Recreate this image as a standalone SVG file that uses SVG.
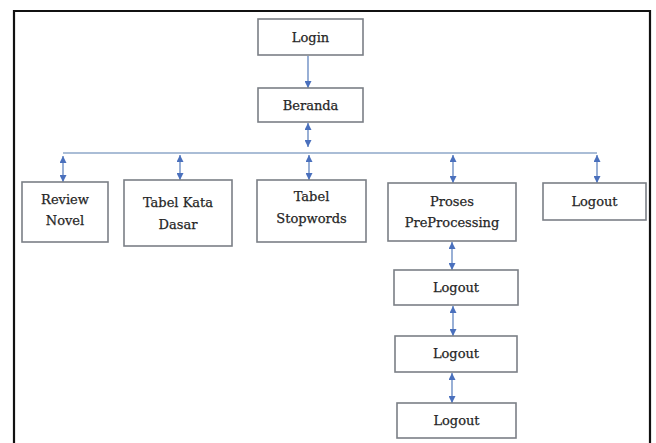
<svg xmlns="http://www.w3.org/2000/svg" width="656" height="443" viewBox="0 0 656 443">
<defs>
<marker id="ah" viewBox="0 0 8 8" refX="8" refY="4" markerWidth="7" markerHeight="7" markerUnits="userSpaceOnUse" orient="auto-start-reverse">
<path d="M0,0 L8,4 L0,8 z" fill="#4a70bd"/>
</marker>
<style>
.box{fill:#ffffff;stroke:#7b7f86;stroke-width:1.6}
.t{font-family:"DejaVu Serif","Liberation Serif",serif;font-size:13px;fill:#262626;stroke:#262626;stroke-width:0.25;text-anchor:middle}
.c{stroke:#6d8ec4;stroke-width:1.4;fill:none}
.bus{stroke:#8ea7c8;stroke-width:1.6;fill:none}
</style>
</defs>
<rect width="656" height="443" fill="#ffffff"/>
<path d="M14,443 V11 H650 V443" fill="none" stroke="#111111" stroke-width="2.2"/>
<g id="connectors">
<line class="c" x1="308" y1="56" x2="308" y2="88" marker-end="url(#ah)"/>
<line class="c" x1="308" y1="123" x2="308" y2="147" marker-start="url(#ah)" marker-end="url(#ah)"/>
<line class="bus" x1="63" y1="153" x2="597" y2="153"/>
<line class="c" x1="63" y1="156" x2="63" y2="182" marker-start="url(#ah)" marker-end="url(#ah)"/>
<line class="c" x1="180" y1="155" x2="180" y2="180" marker-start="url(#ah)" marker-end="url(#ah)"/>
<line class="c" x1="309" y1="155" x2="309" y2="180" marker-start="url(#ah)" marker-end="url(#ah)"/>
<line class="c" x1="453" y1="155" x2="453" y2="183" marker-start="url(#ah)" marker-end="url(#ah)"/>
<line class="c" x1="597" y1="155" x2="597" y2="183" marker-start="url(#ah)" marker-end="url(#ah)"/>
<line class="c" x1="452" y1="242" x2="452" y2="270" marker-start="url(#ah)" marker-end="url(#ah)"/>
<line class="c" x1="453" y1="306" x2="453" y2="336" marker-start="url(#ah)" marker-end="url(#ah)"/>
<line class="c" x1="452" y1="373" x2="452" y2="403" marker-start="url(#ah)" marker-end="url(#ah)"/>
</g>
<g id="login"><rect class="box" x="258" y="19" width="105" height="36"/><text class="t" x="310.5" y="42">Login</text></g>
<g id="beranda"><rect class="box" x="258" y="88" width="105" height="34"/><text class="t" x="310.5" y="110">Beranda</text></g>
<g id="review-novel"><rect class="box" x="22" y="182" width="86" height="60"/><text class="t" x="65" y="204">Review</text><text class="t" x="65" y="225">Novel</text></g>
<g id="tabel-kata-dasar"><rect class="box" x="124" y="180" width="108" height="66"/><text class="t" x="178" y="207">Tabel Kata</text><text class="t" x="178" y="229">Dasar</text></g>
<g id="tabel-stopwords"><rect class="box" x="257" y="180" width="109" height="62"/><text class="t" x="311.5" y="201">Tabel</text><text class="t" x="311.5" y="223">Stopwords</text></g>
<g id="proses-preprocessing"><rect class="box" x="388" y="183" width="128" height="58"/><text class="t" x="452" y="206">Proses</text><text class="t" x="452" y="227">PreProcessing</text></g>
<g id="logout-right"><rect class="box" x="543" y="183" width="103" height="37"/><text class="t" x="594.5" y="206">Logout</text></g>
<g id="logout-1"><rect class="box" x="394" y="270" width="124" height="35"/><text class="t" x="456" y="292">Logout</text></g>
<g id="logout-2"><rect class="box" x="395" y="336" width="122" height="36"/><text class="t" x="456" y="358">Logout</text></g>
<g id="logout-3"><rect class="box" x="397" y="403" width="119" height="35"/><text class="t" x="456.5" y="425">Logout</text></g>
</svg>
